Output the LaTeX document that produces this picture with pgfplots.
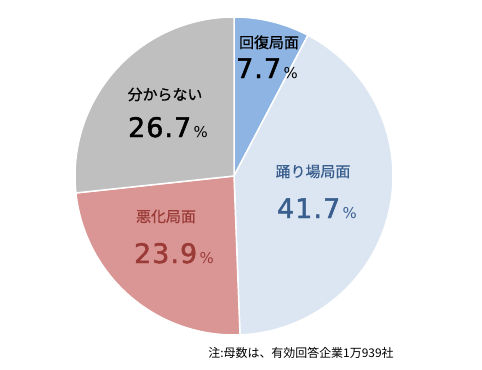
\documentclass[border=0pt]{standalone}
\usepackage{pgfplots}
\pgfplotsset{compat=1.18}
\usepackage{fontspec}
\setmainfont{Noto Sans CJK JP}
\newfontfamily\lblfont{Noto Sans CJK JP}[FakeBold=0.8]
\newfontfamily\numfont{DejaVu Sans}[FakeBold=1.8, LetterSpace=4]
\newfontfamily\pctfont{DejaVu Sans}
\definecolor{cRec}{HTML}{8DB4E2}
\definecolor{cPlat}{HTML}{DCE6F2}
\definecolor{cWorse}{HTML}{DA9694}
\definecolor{cUnk}{HTML}{BFBFBF}
\definecolor{tPlat}{HTML}{3A5F8F}
\definecolor{tWorse}{HTML}{9B3B38}
\newcommand\num[1]{{\numfont\fontsize{27}{30}\selectfont #1}{\pctfont\fontsize{15}{16}\selectfont\,\%}}
% shares (%): 回復局面, 踊り場局面, 悪化局面, 分からない
\def\vA{7.7}\def\vB{41.7}\def\vC{23.9}\def\vD{26.7}
\pgfmathsetmacro\aA{90}
\pgfmathsetmacro\aB{90-3.6*\vA}
\pgfmathsetmacro\aC{\aB-3.6*\vB}
\pgfmathsetmacro\aD{\aC-3.6*\vC}
\pgfmathsetmacro\aE{\aD-3.6*\vD}
\begin{document}
\begin{tikzpicture}
\begin{axis}[hide axis, scale only axis, width=482bp, height=370bp,
  xmin=0, xmax=482, ymin=0, ymax=370, clip=false]
\path (axis cs:0,0) rectangle (axis cs:482,370);
\addplot[fill=cRec, draw=white, line width=1.5pt, domain=\aB:\aA, samples=40] ({234+159*cos(x)},{194+159*sin(x)}) -- (axis cs:234,194) -- cycle;
\addplot[fill=cPlat, draw=white, line width=1.5pt, domain=\aC:\aB, samples=120] ({234+159*cos(x)},{194+159*sin(x)}) -- (axis cs:234,194) -- cycle;
\addplot[fill=cWorse, draw=white, line width=1.5pt, domain=\aD:\aC, samples=80] ({234+159*cos(x)},{194+159*sin(x)}) -- (axis cs:234,194) -- cycle;
\addplot[fill=cUnk, draw=white, line width=1.5pt, domain=\aE:\aD, samples=80] ({234+159*cos(x)},{194+159*sin(x)}) -- (axis cs:234,194) -- cycle;
\node[font=\lblfont\fontsize{15}{17}\selectfont, anchor=base] at (axis cs:269,322) {回復局面};
\node[anchor=base] at (axis cs:267,292) {\num{\vA}};
\node[font=\lblfont\fontsize{15}{17}\selectfont, anchor=base] at (axis cs:165,270) {分からない};
\node[anchor=base] at (axis cs:168,233) {\num{\vD}};
\node[font=\lblfont\fontsize{15}{17}\selectfont, text=tPlat, anchor=base] at (axis cs:313,193) {踊り場局面};
\node[anchor=base, text=tPlat] at (axis cs:317,152) {\num{\vB}};
\node[font=\lblfont\fontsize{15}{17}\selectfont, text=tWorse, anchor=base] at (axis cs:166,148) {悪化局面};
\node[anchor=base, text=tWorse] at (axis cs:174,107) {\num{\vC}};
\node[font=\fontsize{12}{14}\selectfont, anchor=base] at (axis cs:301,13) {注:母数は、有効回答企業1万939社};
\end{axis}
\end{tikzpicture}
\end{document}
